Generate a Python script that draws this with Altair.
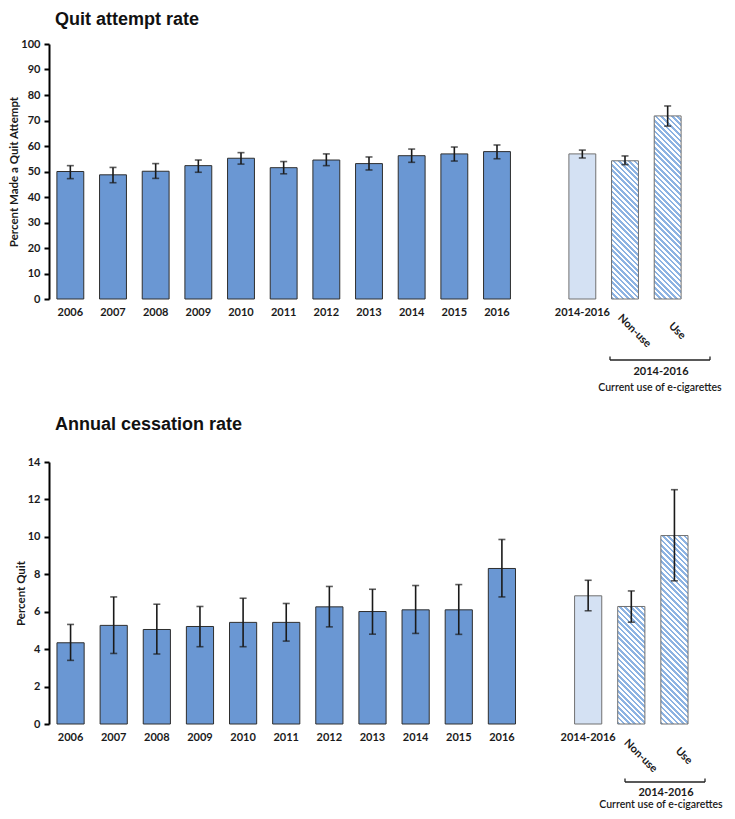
import math
import altair as alt
import pandas as pd

# ---------------- data ----------------
categories = ["2006", "2007", "2008", "2009", "2010", "2011", "2012", "2013",
              "2014", "2015", "2016", " ", "2014-2016", "Non-use", "Use"]
bar_categories = ["2006", "2007", "2008", "2009", "2010", "2011", "2012", "2013",
                  "2014", "2015", "2016", "2014-2016", "Non-use", "Use"]
bar_kind = ["year"] * 11 + ["pooled", "nonuse", "use"]

quit_values = [50.0, 48.7, 50.1, 52.3, 55.2, 51.5, 54.5, 53.1, 56.2, 56.9, 57.8, 56.9, 54.2, 71.8]
quit_low = [47.2, 45.6, 47.3, 49.7, 52.9, 49.1, 52.3, 50.6, 53.6, 54.1, 55.0, 55.3, 52.7, 67.8]
quit_high = [52.3, 51.6, 53.1, 54.5, 57.4, 53.9, 56.9, 55.7, 58.8, 59.6, 60.4, 58.4, 56.1, 75.7]

cess_values = [4.34, 5.27, 5.05, 5.21, 5.43, 5.43, 6.26, 6.01, 6.10, 6.10, 8.31, 6.85, 6.28, 10.07]
cess_low = [3.40, 3.77, 3.74, 4.13, 4.13, 4.43, 5.19, 4.80, 4.84, 4.79, 6.79, 6.05, 5.44, 7.65]
cess_high = [5.32, 6.79, 6.40, 6.28, 6.72, 6.44, 7.35, 7.20, 7.40, 7.45, 9.86, 7.68, 7.11, 12.52]

group_label = "2014-2016"
group_caption = "Current use of e-cigarettes"

# ---------------- style ----------------
DARK_FILL = "#6A97D3"
DARK_STROKE = "#2E2E2E"
LIGHT_FILL = "#D4E1F3"
LIGHT_STROKE = "#707070"
STRIPE = "#8DB3E2"
ERR = "#1A1A1A"
TXT = "#1A1A1A"
FONT = "Lato"
PAD_INNER = 0.37


def stripe_gradient(value, ymax, W, H, period=3.8):
    w = W / len(categories) * (1 - PAD_INNER)
    h = max(value / ymax * H, 1.0)
    r = h / w
    d = (1 + r) / (1 + r * r)
    n = max(int(round((w + h) / (math.sqrt(2) * period))), 1)
    stops = []
    for k in range(n):
        a = k / n
        m = (k + 0.5) / n
        b = (k + 1) / n
        stops += [{"offset": a, "color": STRIPE}, {"offset": m, "color": STRIPE},
                  {"offset": m, "color": "#FFFFFF"}, {"offset": b, "color": "#FFFFFF"}]
    return {"gradient": "linear", "x1": 0, "y1": 1, "x2": d, "y2": 1 - d * r, "stops": stops}


def panel(values, low, high, ymax, ystep, title, ytitle, W, H, ann, title_offset):
    df = pd.DataFrame({"cat": bar_categories, "kind": bar_kind,
                       "v": values, "lo": low, "hi": high})
    base = alt.Chart(df)

    def xe():
        return alt.X(
            "cat:N",
            scale=alt.Scale(domain=categories, paddingInner=PAD_INNER, paddingOuter=PAD_INNER / 2),
            axis=alt.Axis(
                title=None, domain=False, ticks=False, labelAngle=0,
                labelFont=FONT, labelFontWeight="bold", labelFontSize=11, labelColor=TXT,
                labelPadding=7, labelOverlap=False,
                labelExpr="datum.value == 'Non-use' || datum.value == 'Use' ? '' : datum.label",
            ),
        )

    def ye(field):
        return alt.Y(
            field,
            title=ytitle,
            scale=alt.Scale(domain=[0, ymax], nice=False, zero=True),
            axis=alt.Axis(
                values=list(range(0, ymax + 1, ystep)), grid=False, labelOverlap=False,
                domainColor="#000000", domainWidth=2, tickColor="#000000", tickWidth=2,
                tickSize=5, labelPadding=4,
                labelFont=FONT, labelFontWeight="bold", labelFontSize=11, labelColor=TXT,
                titleFont=FONT, titleFontWeight="bold", titleFontSize=11.5, titleColor=TXT,
                titlePadding=1,
            ),
        )

    dark = base.transform_filter(alt.datum.kind == "year").mark_bar(
        fill=DARK_FILL, stroke=DARK_STROKE, strokeWidth=1
    ).encode(x=xe(), y=ye("v:Q"))

    pooled = base.transform_filter(alt.datum.kind == "pooled").mark_bar(
        fill=LIGHT_FILL, stroke=LIGHT_STROKE, strokeWidth=1
    ).encode(x=xe(), y=ye("v:Q"))

    striped = []
    for kind, cat in (("nonuse", "Non-use"), ("use", "Use")):
        v = values[bar_categories.index(cat)]
        striped.append(
            base.transform_filter(alt.datum.kind == kind).mark_bar(
                fill=stripe_gradient(v, ymax, W, H), stroke=LIGHT_STROKE, strokeWidth=1
            ).encode(x=xe(), y=ye("v:Q"))
        )

    err = base.mark_rule(color=ERR, strokeWidth=1.6).encode(
        x=xe(), y=ye("lo:Q"), y2="hi:Q")
    cap_hi = base.mark_tick(color=ERR, thickness=1.6, size=7).encode(
        x=xe(), y=ye("hi:Q"))
    cap_lo = base.mark_tick(color=ERR, thickness=1.6, size=7).encode(
        x=xe(), y=ye("lo:Q"))

    rot = base.transform_filter(
        (alt.datum.kind == "nonuse") | (alt.datum.kind == "use")
    ).mark_text(
        angle=45, align="center", baseline="middle", dx=20, dy=7,
        font=FONT, fontWeight="bold", fontSize=11, color=TXT
    ).encode(x=xe(), y=alt.value(H + 13), text="cat:N")

    one = alt.Data(values=[{"a": 1}])
    bx1, bx2, by, gy, cy, gx, cx = ann
    bracket = alt.Chart(one).mark_rule(color="#222222", strokeWidth=1.3).encode(
        x=alt.value(bx1), x2=alt.value(bx2), y=alt.value(by))
    end_l = alt.Chart(one).mark_rule(color="#222222", strokeWidth=1.3).encode(
        x=alt.value(bx1), y=alt.value(by - 3.5), y2=alt.value(by))
    end_r = alt.Chart(one).mark_rule(color="#222222", strokeWidth=1.3).encode(
        x=alt.value(bx2), y=alt.value(by - 3.5), y2=alt.value(by))
    glabel = alt.Chart(one).mark_text(
        font=FONT, fontWeight="bold", fontSize=11, color=TXT, align="center", baseline="middle"
    ).encode(x=alt.value(gx), y=alt.value(gy), text=alt.value(group_label))
    gcap = alt.Chart(one).mark_text(
        font=FONT, fontWeight=600, fontSize=10.5, color=TXT, align="center", baseline="middle"
    ).encode(x=alt.value(cx), y=alt.value(cy), text=alt.value(group_caption))

    return alt.layer(
        dark, pooled, *striped, err, cap_hi, cap_lo, rot,
        bracket, end_l, end_r, glabel, gcap
    ).properties(
        width=W, height=H,
        title=alt.TitleParams(
            text=title, anchor="start", frame="group", dx=6, offset=title_offset,
            font="Liberation Sans", fontSize=18, fontWeight="bold", color="#111111",
        ),
    )


top = panel(quit_values, quit_low, quit_high, 100, 10, "Quit attempt rate",
            "Percent Made a Quit Attempt", 640, 255,
            (561, 661, 316, 328, 344, 612, 611), 9)
bottom = panel(cess_values, cess_low, cess_high, 14, 2, "Annual cessation rate",
               "Percent Quit", 647, 262,
               (576, 656, 320, 331, 343, 617, 612), 22)

chart = alt.vconcat(top, bottom, spacing=22).properties(
    padding={"top": 3, "left": 0, "right": 0, "bottom": 0}
).configure_view(stroke=None)

chart.save("out.html", embed_options={"renderer": "svg", "actions": False})
